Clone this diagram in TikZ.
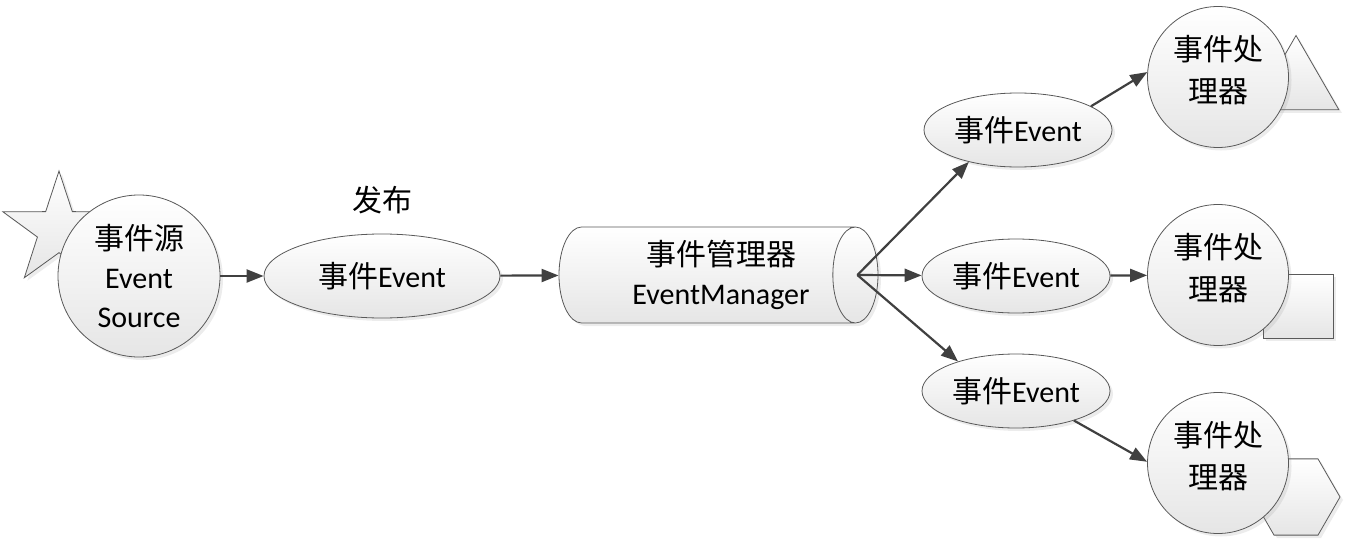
\documentclass[tikz,border=0pt]{standalone}
\usepackage{fontspec}
\setmainfont{Carlito}
\newfontfamily\cjk{Noto Sans CJK SC}
\usetikzlibrary{shapes.geometric}
\usetikzlibrary{arrows.meta}
\usetikzlibrary{shadows}

\begin{document}
\begin{tikzpicture}[
  font=\fontsize{30}{39}\selectfont,
  shp/.style={draw=black!65, line width=0.8pt, top color=white, bottom color=black!10,
              drop shadow={opacity=0.15, shadow xshift=3pt, shadow yshift=-3pt}},
  evt/.style={shp, ellipse, minimum width=188pt, minimum height=74pt, inner sep=0pt},
  hdl/.style={shp, circle, minimum size=141pt, inner sep=0pt, align=center,
              text depth=16pt, font=\fontsize{30}{42}\selectfont},
  flow/.style={draw=black!75, line width=2.2pt, -{Triangle[length=17pt,width=13pt]}},
]
\useasboundingbox (0,0) rectangle (1347pt,-543pt);

  % shapes behind the circles
  \node[shp, star, star points=5, star point ratio=2.6, minimum size=118pt, inner sep=0pt]
       (mark0) at (59pt,-230pt) {};
  \node[shp, regular polygon, regular polygon sides=3, minimum size=99pt, inner sep=0pt]
       (mark1) at (1296pt,-85pt) {};
  \draw[shp] (1263pt,-274pt) rectangle (1333pt,-338pt);
  \node[shp, regular polygon, regular polygon sides=6, minimum size=88pt, inner sep=0pt]
       (mark3) at (1296pt,-497pt) {};

  % source and publishing
  \node[hdl, minimum size=162pt, text depth=, font=\fontsize{30}{39}\selectfont]
       (src) at (139pt,-276pt) {{\cjk 事件源}\\Event\\Source};
  \node (pub) at (382pt,-200pt) {\cjk 发布};
  \node[shp, ellipse, minimum width=236pt, minimum height=84pt, inner sep=0pt]
       (evt) at (382pt,-276pt) {{\cjk 事件}Event};

  % manager
  \node[shp, cylinder, aspect=0.65, minimum height=319pt, minimum width=96pt,
        inner sep=0pt, align=center]
       (mgr) at (707pt,-275pt)
       {\hspace*{28pt}{\cjk 事件管理器}\\\hspace*{28pt}EventManager};
  \coordinate (hub) at ([xshift=-21pt]mgr.top);

  % events and handlers
  \node[evt] (ev1) at (1018pt,-130pt) {{\cjk 事件}Event};
  \node[evt] (ev2) at (1016pt,-276pt) {{\cjk 事件}Event};
  \node[evt] (ev3) at (1016pt,-391pt) {{\cjk 事件}Event};
  \node[hdl] (h1) at (1218pt,-77pt)  {{\cjk 事件处}\\{\cjk 理器}};
  \node[hdl] (h2) at (1218pt,-275pt) {{\cjk 事件处}\\{\cjk 理器}};
  \node[hdl] (h3) at (1218pt,-463pt) {{\cjk 事件处}\\{\cjk 理器}};

  % arrows
  \draw[flow] (src) -- (evt);
  \draw[flow] (evt) -- (mgr);
  \draw[flow] (hub) -- (ev1.213);
  \draw[flow] (hub) -- (ev2);
  \draw[flow] (hub) -- (ev3.153);
  \draw[flow] (ev1.18) -- (h1.176);
  \draw[flow] (ev2) -- (h2);
  \draw[flow] (ev3.-27) -- (h3.179);

\end{tikzpicture}
\end{document}
